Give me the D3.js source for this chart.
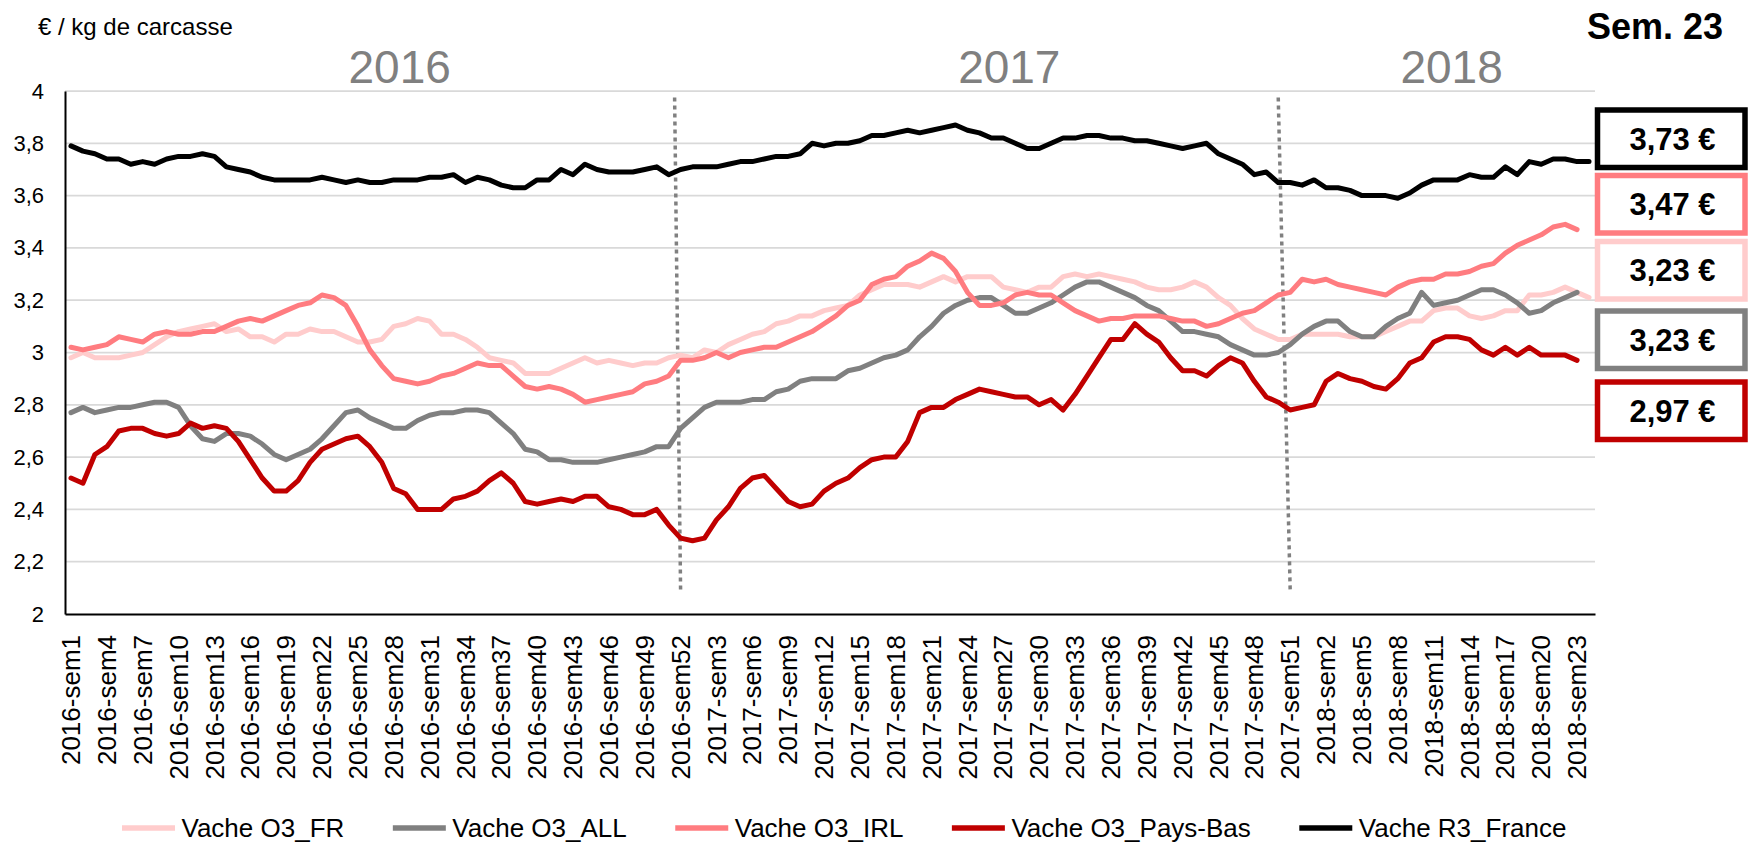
<!DOCTYPE html>
<html>
<head>
<meta charset="utf-8">
<script src="https://cdn.jsdelivr.net/npm/d3@7"></script>
<style>
  html, body { margin: 0; padding: 0; background: #fff; }
  svg { display: block; font-family: "Liberation Sans", Arial, sans-serif; }
</style>
</head>
<body>
<div id="chart"></div>
<script>
const years = [2016, 2017, 2018];
const weeksPerYear = [52, 52, 24];
const categories = years.flatMap((yr, k) =>
  d3.range(1, weeksPerYear[k] + 1).map(w => `${yr}-sem${w}`));

const vacheO3FR = [
  2.98,3.00,2.98,2.98,2.98,2.99,3.00,3.03,3.06,3.08,3.09,3.10,3.11,3.08,3.09,3.06,3.06,3.04,3.07,3.07,3.09,3.08,3.08,3.06,3.04,3.04,3.05,3.10,3.11,3.13,3.12,3.07,
  3.07,3.05,3.02,2.98,2.97,2.96,2.92,2.92,2.92,2.94,2.96,2.98,2.96,2.97,2.96,2.95,2.96,2.96,2.98,2.99,2.98,3.01,3.00,3.03,3.05,3.07,3.08,3.11,3.12,3.14,3.14,3.16,
  3.17,3.18,3.22,3.24,3.26,3.26,3.26,3.25,3.27,3.29,3.27,3.29,3.29,3.29,3.25,3.24,3.23,3.25,3.25,3.29,3.30,3.29,3.30,3.29,3.28,3.27,3.25,3.24,3.24,3.25,3.27,3.25,
  3.21,3.18,3.13,3.09,3.07,3.05,3.05,3.07,3.07,3.07,3.07,3.06,3.06,3.06,3.08,3.10,3.12,3.12,3.16,3.17,3.17,3.14,3.13,3.14,3.16,3.16,3.22,3.22,3.23,3.25,3.23,3.21
];
const vacheO3ALL = [
  2.77,2.79,2.77,2.78,2.79,2.79,2.80,2.81,2.81,2.79,2.72,2.67,2.66,2.69,2.69,2.68,2.65,2.61,2.59,2.61,2.63,2.67,2.72,2.77,2.78,2.75,2.73,2.71,2.71,2.74,2.76,2.77,
  2.77,2.78,2.78,2.77,2.73,2.69,2.63,2.62,2.59,2.59,2.58,2.58,2.58,2.59,2.60,2.61,2.62,2.64,2.64,2.71,2.75,2.79,2.81,2.81,2.81,2.82,2.82,2.85,2.86,2.89,2.90,2.90,
  2.90,2.93,2.94,2.96,2.98,2.99,3.01,3.06,3.10,3.15,3.18,3.20,3.21,3.21,3.18,3.15,3.15,3.17,3.19,3.22,3.25,3.27,3.27,3.25,3.23,3.21,3.18,3.16,3.12,3.08,3.08,3.07,
  3.06,3.03,3.01,2.99,2.99,3.00,3.03,3.07,3.10,3.12,3.12,3.08,3.06,3.06,3.10,3.13,3.15,3.23,3.18,3.19,3.20,3.22,3.24,3.24,3.22,3.19,3.15,3.16,3.19,3.21,3.23,null
];
const vacheO3IRL = [
  3.02,3.01,3.02,3.03,3.06,3.05,3.04,3.07,3.08,3.07,3.07,3.08,3.08,3.10,3.12,3.13,3.12,3.14,3.16,3.18,3.19,3.22,3.21,3.18,3.10,3.01,2.95,2.90,2.89,2.88,2.89,2.91,
  2.92,2.94,2.96,2.95,2.95,2.91,2.87,2.86,2.87,2.86,2.84,2.81,2.82,2.83,2.84,2.85,2.88,2.89,2.91,2.97,2.97,2.98,3.00,2.98,3.00,3.01,3.02,3.02,3.04,3.06,3.08,3.11,
  3.14,3.18,3.20,3.26,3.28,3.29,3.33,3.35,3.38,3.36,3.31,3.23,3.18,3.18,3.19,3.22,3.23,3.22,3.22,3.19,3.16,3.14,3.12,3.13,3.13,3.14,3.14,3.14,3.13,3.12,3.12,3.10,
  3.11,3.13,3.15,3.16,3.19,3.22,3.23,3.28,3.27,3.28,3.26,3.25,3.24,3.23,3.22,3.25,3.27,3.28,3.28,3.30,3.30,3.31,3.33,3.34,3.38,3.41,3.43,3.45,3.48,3.49,3.47,null
];
const vacheO3PaysBas = [
  2.52,2.50,2.61,2.64,2.70,2.71,2.71,2.69,2.68,2.69,2.73,2.71,2.72,2.71,2.66,2.59,2.52,2.47,2.47,2.51,2.58,2.63,2.65,2.67,2.68,2.64,2.58,2.48,2.46,2.40,2.40,2.40,
  2.44,2.45,2.47,2.51,2.54,2.50,2.43,2.42,2.43,2.44,2.43,2.45,2.45,2.41,2.40,2.38,2.38,2.40,2.34,2.29,2.28,2.29,2.36,2.41,2.48,2.52,2.53,2.48,2.43,2.41,2.42,2.47,
  2.50,2.52,2.56,2.59,2.60,2.60,2.66,2.77,2.79,2.79,2.82,2.84,2.86,2.85,2.84,2.83,2.83,2.80,2.82,2.78,2.84,2.91,2.98,3.05,3.05,3.11,3.07,3.04,2.98,2.93,2.93,2.91,
  2.95,2.98,2.96,2.89,2.83,2.81,2.78,2.79,2.80,2.89,2.92,2.90,2.89,2.87,2.86,2.90,2.96,2.98,3.04,3.06,3.06,3.05,3.01,2.99,3.02,2.99,3.02,2.99,2.99,2.99,2.97,null
];
const vacheR3France = [
  3.79,3.77,3.76,3.74,3.74,3.72,3.73,3.72,3.74,3.75,3.75,3.76,3.75,3.71,3.70,3.69,3.67,3.66,3.66,3.66,3.66,3.67,3.66,3.65,3.66,3.65,3.65,3.66,3.66,3.66,3.67,3.67,
  3.68,3.65,3.67,3.66,3.64,3.63,3.63,3.66,3.66,3.70,3.68,3.72,3.70,3.69,3.69,3.69,3.70,3.71,3.68,3.70,3.71,3.71,3.71,3.72,3.73,3.73,3.74,3.75,3.75,3.76,3.80,3.79,
  3.80,3.80,3.81,3.83,3.83,3.84,3.85,3.84,3.85,3.86,3.87,3.85,3.84,3.82,3.82,3.80,3.78,3.78,3.80,3.82,3.82,3.83,3.83,3.82,3.82,3.81,3.81,3.80,3.79,3.78,3.79,3.80,
  3.76,3.74,3.72,3.68,3.69,3.65,3.65,3.64,3.66,3.63,3.63,3.62,3.60,3.60,3.60,3.59,3.61,3.64,3.66,3.66,3.66,3.68,3.67,3.67,3.71,3.68,3.73,3.72,3.74,3.74,3.73,3.73
];

const seriesNames = ['Vache O3_FR', 'Vache O3_ALL', 'Vache O3_IRL', 'Vache O3_Pays-Bas', 'Vache R3_France'];
const seriesValues = [vacheO3FR, vacheO3ALL, vacheO3IRL, vacheO3PaysBas, vacheR3France];
const seriesColors = ['#ffcccc', '#808080', '#ff7c80', '#c00000', '#000000'];

const yTicks = [2, 2.2, 2.4, 2.6, 2.8, 3, 3.2, 3.4, 3.6, 3.8, 4];
const yearLabels = ['2016', '2017', '2018'];
const yearLabelAt = ['2016-sem28', '2017-sem27', '2018-sem12'];
const latestWeek = '2018-sem23';
const boxOrder = ['Vache R3_France', 'Vache O3_IRL', 'Vache O3_FR', 'Vache O3_ALL', 'Vache O3_Pays-Bas'];

function renderChart(containerSelector) {
  const container = d3.select(containerSelector);
  const width = 1748, height = 844;
  const plot = { left: 65, right: 1595, top: 91, bottom: 614 };

  const svg = container.append('svg')
    .attr('width', width)
    .attr('height', height);

  const x = d3.scaleBand()
    .domain(categories)
    .range([plot.left, plot.right])
    .padding(0);
  const step = x.bandwidth();
  const xc = c => x(c) + step / 2;

  const y = d3.scaleLinear()
    .domain([2, 4])
    .range([plot.bottom, plot.top]);

  const fmt = v => d3.format('.2f')(v).replace('.', ',');
  const fmtTick = v => d3.format('~g')(v).replace('.', ',');

  // Gridlines
  svg.append('g')
    .selectAll('line')
    .data(yTicks.filter(t => t > 2))
    .join('line')
    .attr('x1', plot.left)
    .attr('x2', plot.right)
    .attr('y1', d => y(d))
    .attr('y2', d => y(d))
    .attr('stroke', '#d9d9d9')
    .attr('stroke-width', 1.75);

  // Y axis
  const yAxis = svg.append('g')
    .attr('transform', `translate(${plot.left},0)`)
    .call(d3.axisLeft(y).tickValues(yTicks).tickFormat(fmtTick).tickSize(0).tickPadding(21));
  yAxis.select('.domain').attr('stroke', '#000').attr('stroke-width', 2);
  yAxis.selectAll('text')
    .style('font-family', '"Liberation Sans", Arial, sans-serif')
    .style('font-size', '22px')
    .attr('fill', '#000');

  // X axis
  const xAxis = svg.append('g')
    .attr('transform', `translate(0,${plot.bottom})`)
    .call(d3.axisBottom(x).tickValues(categories.filter((c, i) => i % 3 === 0)).tickSize(0).tickPadding(0));
  xAxis.select('.domain').attr('stroke', '#000').attr('stroke-width', 2);
  xAxis.selectAll('.tick text')
    .attr('transform', 'translate(0,21) rotate(-90)')
    .attr('text-anchor', 'end')
    .attr('x', 0)
    .attr('y', 0)
    .attr('dy', '0.35em')
    .style('font-family', '"Liberation Sans", Arial, sans-serif')
    .style('font-size', '26px')
    .attr('fill', '#000');

  // Year separators
  const separators = [
    { top: (xc('2016-sem51') + xc('2016-sem52')) / 2, bottom: xc('2016-sem52') },
    { top: xc('2017-sem50'), bottom: xc('2017-sem51') }
  ];
  svg.append('g')
    .selectAll('line')
    .data(separators)
    .join('line')
    .attr('x1', d => d.top)
    .attr('x2', d => d.bottom)
    .attr('y1', y(3.975))
    .attr('y2', y(2.09))
    .attr('stroke', '#808080')
    .attr('stroke-width', 3.5)
    .attr('stroke-dasharray', '4,4');

  // Lines
  const line = d3.line()
    .defined(d => d != null)
    .x((d, i) => xc(categories[i]))
    .y(d => y(d));

  svg.append('g')
    .selectAll('path')
    .data(seriesValues)
    .join('path')
    .attr('d', d => line(d))
    .attr('fill', 'none')
    .attr('stroke', (d, i) => seriesColors[i])
    .attr('stroke-width', 5)
    .attr('stroke-linejoin', 'round')
    .attr('stroke-linecap', 'round');

  // Year labels
  svg.append('g')
    .selectAll('text')
    .data(yearLabels)
    .join('text')
    .attr('x', (d, i) => xc(yearLabelAt[i]) + step / 2)
    .attr('y', 83)
    .attr('text-anchor', 'middle')
    .attr('fill', '#808080')
    .style('font-size', '46px')
    .text(d => d);

  // Titles
  svg.append('text')
    .attr('x', 38)
    .attr('y', 35)
    .style('font-size', '24px')
    .text('€ / kg de carcasse');

  svg.append('text')
    .attr('x', 1723)
    .attr('y', 39)
    .attr('text-anchor', 'end')
    .style('font-size', '36px')
    .style('font-weight', 'bold')
    .text('Sem. ' + latestWeek.split('sem')[1]);

  // Latest value boxes
  const boxTops = [110, 175.5, 241.5, 311, 382];
  const boxH = 57.5;
  const latestIdx = categories.indexOf(latestWeek);
  const boxes = svg.append('g')
    .selectAll('g')
    .data(boxOrder)
    .join('g')
    .attr('transform', (d, i) => `translate(1597.5,${boxTops[i]})`);
  boxes.append('rect')
    .attr('width', 147.5)
    .attr('height', boxH)
    .attr('fill', '#fff')
    .attr('stroke', d => seriesColors[seriesNames.indexOf(d)])
    .attr('stroke-width', 5.5);
  boxes.append('text')
    .attr('x', 75)
    .attr('y', boxH / 2)
    .attr('dy', '0.36em')
    .attr('text-anchor', 'middle')
    .style('font-size', '31px')
    .style('font-weight', 'bold')
    .text(d => fmt(seriesValues[seriesNames.indexOf(d)][latestIdx]) + ' €');

  // Legend
  const legend = svg.append('g').attr('transform', 'translate(0,828)');
  let lx = 122;
  seriesNames.forEach((name, i) => {
    legend.append('line')
      .attr('x1', lx)
      .attr('x2', lx + 53)
      .attr('stroke', seriesColors[i])
      .attr('stroke-width', 5.5);
    const t = legend.append('text')
      .attr('x', lx + 59.5)
      .attr('y', 9)
      .style('font-size', '26px')
      .text(name);
    lx += 59.5 + t.node().getComputedTextLength() + 48.5;
  });
}

renderChart('#chart');
</script>
</body>
</html>
